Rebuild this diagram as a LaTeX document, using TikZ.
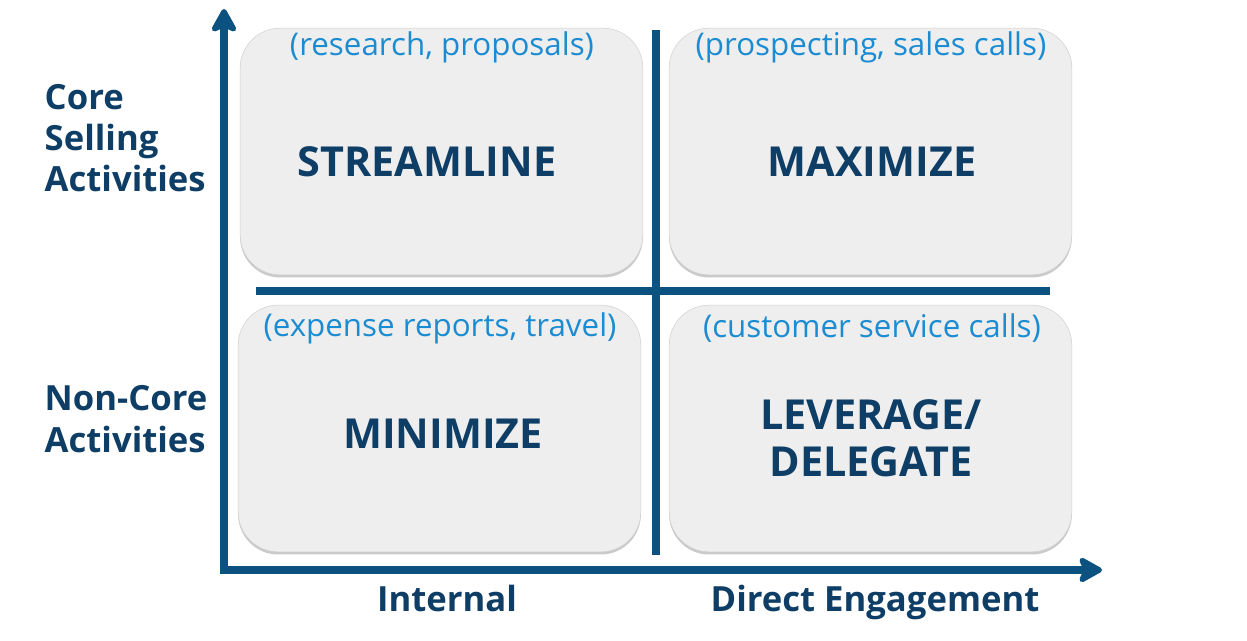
\documentclass[tikz,border=0pt]{standalone}
\usepackage{fontspec}
\setmainfont{Open Sans}
\definecolor{axisblue}{RGB}{12, 82, 128}
\definecolor{navy1}{RGB}{14, 62, 102}
\definecolor{sky1}{RGB}{28, 140, 210}
\definecolor{boxgray}{RGB}{238, 238, 238}
\usetikzlibrary{arrows.meta, positioning, shadows}

\begin{document}
\begin{tikzpicture}[
  x=0.75pt, y=-0.75pt,
  quad/.style={draw=black!18, fill=boxgray, rounded corners=30pt, minimum width=302pt, minimum height=185pt,
    drop shadow={shadow xshift=0pt, shadow yshift=-2pt, opacity=0.35, fill=black!60}},
  big/.style={font=\fontsize{31}{35}\selectfont\bfseries, text=navy1, align=center},
  sub/.style={font=\fontsize{23.5}{27}\selectfont, text=sky1},
  side/.style={font=\fontsize{26}{31}\selectfont\bfseries, text=navy1, align=left},
  axis/.style={line width=6pt, draw=axisblue, -{Stealth[length=21pt, width=23pt, inset=5pt, round]}},
  divider/.style={line width=6pt, draw=axisblue},
]
  \useasboundingbox (0,0) rectangle (1247,641);

  % the four quadrants
  \node[quad] (tl) at (441.5,151.5) {};
  \node[quad] (tr) at (870.5,151.5) {};
  \node[quad] (bl) at (439.5,428.5) {};
  \node[quad] (br) at (870.5,428.5) {};

  \node[sub] (tlsub) at (442,47) {(research, proposals)};
  \node[sub] (trsub) at (871,47) {(prospecting, sales calls)};
  \node[sub] (blsub) at (440,328) {(expense reports, travel)};
  \node[sub] (brsub) at (872,328) {(customer service calls)};

  \node[big] (stream) at (427,162) {STREAMLINE};
  \node[big] (maxi) at (872,162) {MAXIMIZE};
  \node[big] (mini) at (443,434) {MINIMIZE};
  \node[big] (lever) at (871,438) {LEVERAGE/\\DELEGATE};

  % axes
  \coordinate (origin) at (224,570);
  \coordinate (ytip) at (224,9);
  \coordinate (xtip) at (1102,570);
  \draw[axis] ([yshift=3pt]origin) -- (ytip);
  \draw[axis] ([xshift=-3pt]origin) -- (xtip);

  % dividers
  \coordinate (vtop) at (656,30);
  \coordinate (vbot) at (656,555);
  \coordinate (hleft) at (256,291);
  \coordinate (hright) at (1050,291);
  \draw[divider] (vtop) -- (vbot);
  \draw[divider] (hleft) -- (hright);

  % axis labels
  \node[side, anchor=west] (core) at (40,138) {Core\\Selling\\Activities};
  \node[side, anchor=west] (noncore) at (40,419) {Non-Core\\Activities};
  \node[side, anchor=base] (internal) at (447,612) {Internal};
  \node[side, anchor=base] (direct) at (875,612) {Direct Engagement};
\end{tikzpicture}
\end{document}
